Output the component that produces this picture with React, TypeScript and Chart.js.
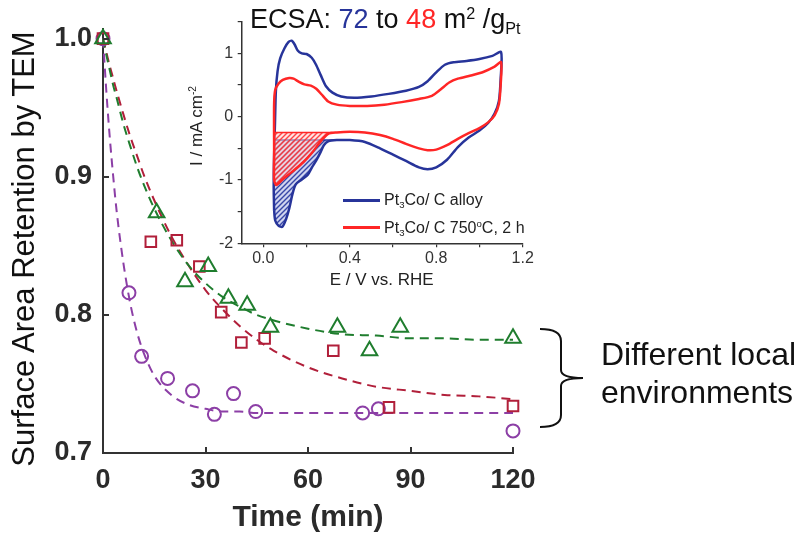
import React, { useEffect, useRef } from 'react';
import { Chart, registerables } from 'chart.js';
Chart.register(...registerables);

const FONT = '"Liberation Sans", Arial, Helvetica, sans-serif';

// ---- Main plot: surface area retention vs time ----
const xTicksMain = [0, 30, 60, 90, 120];
const yTicksMain = [0.7, 0.8, 0.9, 1.0];

const greenTime = [0, 15.7, 24, 30.8, 36.7, 42.2, 49, 68.6, 78, 87, 120];
const greenRet = [1.0, 0.874, 0.824, 0.835, 0.812, 0.807, 0.791, 0.791, 0.774, 0.791, 0.783];

const redTime = [0, 14, 21.6, 28.2, 34.6, 40.5, 47.3, 67.4, 83.7, 120];
const redRet = [1.0, 0.853, 0.854, 0.835, 0.802, 0.78, 0.783, 0.774, 0.733, 0.734];

const purpleTime = [0, 7.6, 11.3, 18.9, 26.2, 32.6, 38.2, 44.7, 76, 80.6, 120];
const purpleRet = [1.0, 0.816, 0.77, 0.754, 0.745, 0.728, 0.743, 0.73, 0.729, 0.732, 0.716];

const fitTime = [0, 1, 2, 3, 4, 6, 8, 10, 12, 15, 20, 25, 30, 35, 40, 45, 50, 60, 70, 80, 90, 100, 110, 120];
const greenFit = [1.0, 0.988, 0.977, 0.966, 0.957, 0.938, 0.922, 0.907, 0.894, 0.877, 0.854, 0.836, 0.823, 0.813, 0.806, 0.8, 0.796, 0.79, 0.786, 0.785, 0.783, 0.783, 0.782, 0.782];
const redFit = [1.0, 0.99, 0.98, 0.971, 0.962, 0.945, 0.929, 0.915, 0.901, 0.883, 0.857, 0.836, 0.818, 0.804, 0.792, 0.782, 0.774, 0.762, 0.754, 0.748, 0.745, 0.742, 0.741, 0.739];
const purpleFit = [1.0, 0.961, 0.928, 0.9, 0.875, 0.837, 0.808, 0.787, 0.772, 0.756, 0.742, 0.735, 0.732, 0.73, 0.73, 0.729, 0.729, 0.729, 0.729, 0.729, 0.729, 0.729, 0.729, 0.729];

// ---- Inset: cyclic voltammograms ----
const xTicksInset = [0, 0.2, 0.4, 0.6, 0.8, 1.0, 1.2];
const yTicksInset = [-2, -1.5, -1, -0.5, 0, 0.5, 1, 1.5];

const cvBlueE = [0.05, 0.048, 0.05, 0.054, 0.058, 0.066, 0.078, 0.098, 0.117, 0.131, 0.145, 0.16, 0.178, 0.2, 0.224, 0.244, 0.265, 0.29, 0.32, 0.36, 0.42, 0.5, 0.58, 0.66, 0.72, 0.76, 0.8, 0.84, 0.88, 0.94, 1.0, 1.06, 1.1, 1.098, 1.09, 1.07, 1.04, 1.0, 0.95, 0.9, 0.85, 0.8, 0.76, 0.72, 0.66, 0.6, 0.54, 0.47, 0.4, 0.34, 0.3, 0.28, 0.265, 0.245, 0.225, 0.205, 0.175, 0.15, 0.135, 0.12, 0.105, 0.088, 0.07, 0.055, 0.05];
const cvBlueI = [-1.48, -1.1, -0.6, -0.1, 0.4, 0.72, 0.92, 1.08, 1.18, 1.2, 1.14, 1.04, 1.0, 0.99, 0.93, 0.82, 0.66, 0.48, 0.38, 0.32, 0.3, 0.32, 0.36, 0.41, 0.47, 0.56, 0.7, 0.82, 0.86, 0.88, 0.91, 0.96, 1.02, 0.6, 0.25, 0.05, -0.1, -0.22, -0.33, -0.48, -0.68, -0.8, -0.83, -0.8, -0.7, -0.6, -0.5, -0.4, -0.37, -0.37, -0.39, -0.45, -0.56, -0.69, -0.8, -0.92, -1.0, -1.07, -1.22, -1.45, -1.62, -1.74, -1.72, -1.64, -1.48];

const cvRedE = [0.05, 0.05, 0.055, 0.07, 0.09, 0.12, 0.14, 0.165, 0.19, 0.22, 0.245, 0.27, 0.3, 0.34, 0.4, 0.48, 0.56, 0.64, 0.72, 0.78, 0.82, 0.86, 0.9, 0.96, 1.02, 1.07, 1.1, 1.098, 1.09, 1.07, 1.04, 1.0, 0.95, 0.9, 0.85, 0.8, 0.76, 0.72, 0.66, 0.6, 0.54, 0.47, 0.4, 0.34, 0.3, 0.27, 0.23, 0.185, 0.13, 0.09, 0.06, 0.05, 0.05];
const cvRedI = [-0.6, 0.2, 0.42, 0.52, 0.58, 0.61, 0.6, 0.55, 0.51, 0.49, 0.44, 0.35, 0.24, 0.19, 0.17, 0.17, 0.19, 0.23, 0.28, 0.33, 0.43, 0.54, 0.6, 0.65, 0.71, 0.79, 0.86, 0.5, 0.2, 0.02, -0.09, -0.18, -0.26, -0.35, -0.45, -0.52, -0.53, -0.5, -0.43, -0.35, -0.29, -0.25, -0.24, -0.25, -0.27, -0.37, -0.55, -0.72, -0.88, -0.99, -1.08, -1.0, -0.6];

const hatchBlueE = [0.05, 0.05, 0.055, 0.07, 0.088, 0.105, 0.12, 0.135, 0.15, 0.175, 0.205, 0.225, 0.245, 0.265, 0.28, 0.3, 0.33];
const hatchBlueI = [-0.37, -1.48, -1.64, -1.72, -1.74, -1.62, -1.45, -1.22, -1.07, -1.0, -0.92, -0.8, -0.69, -0.56, -0.45, -0.39, -0.37];
const hatchRedE = [0.05, 0.05, 0.06, 0.09, 0.13, 0.185, 0.23, 0.27, 0.3, 0.32];
const hatchRedI = [-0.25, -1.0, -1.08, -0.99, -0.88, -0.72, -0.55, -0.37, -0.27, -0.25];
const baseBlue = -0.37;
const baseRed = -0.25;

const GREEN = '#1f7d2e';
const RED = '#b11f3a';
const PURPLE = '#8c3fa6';
const NAVY = '#27349a';
const BRIGHT = '#ff2626';
const AXIS = '#333333';

const pts = (xs: number[], ys: number[]) => xs.map((x, i) => ({ x, y: ys[i] }));
const near = (v: number, step: number) => Math.abs(v / step - Math.round(v / step)) < 1e-6;

function hatch(line: string, bg: string) {
  const c = document.createElement('canvas');
  c.width = 5;
  c.height = 5;
  const g = c.getContext('2d')!;
  g.fillStyle = bg;
  g.fillRect(0, 0, 5, 5);
  g.strokeStyle = line;
  g.lineWidth = 1.4;
  g.beginPath();
  g.moveTo(0, 5); g.lineTo(5, 0);
  g.moveTo(-1, 1); g.lineTo(1, -1);
  g.moveTo(4, 6); g.lineTo(6, 4);
  g.stroke();
  return g.createPattern(c, 'repeat');
}

const mainDecor = {
  id: 'mainDecor',
  afterDraw(chart: any) {
    const { ctx, chartArea } = chart;
    const xs = chart.scales.x;
    const ys = chart.scales.y;
    ctx.save();
    ctx.strokeStyle = AXIS;
    ctx.lineWidth = 2;
    ctx.beginPath();
    [30, 60, 90, 120].forEach((v) => {
      const p = Math.round(xs.getPixelForValue(v));
      ctx.moveTo(p, chartArea.bottom);
      ctx.lineTo(p, chartArea.bottom - 6);
    });
    [0.8, 0.9, 1.0].forEach((v) => {
      const p = Math.round(ys.getPixelForValue(v));
      ctx.moveTo(chartArea.left, p);
      ctx.lineTo(chartArea.left + 6, p);
    });
    ctx.stroke();
    // curly brace
    ctx.strokeStyle = '#111';
    ctx.lineWidth = 2;
    ctx.beginPath();
    ctx.moveTo(540, 329);
    ctx.quadraticCurveTo(561, 329, 561, 341);
    ctx.lineTo(561, 370);
    ctx.quadraticCurveTo(561, 378, 583, 378);
    ctx.quadraticCurveTo(561, 378, 561, 386);
    ctx.lineTo(561, 415);
    ctx.quadraticCurveTo(561, 427, 540, 427);
    ctx.stroke();
    ctx.restore();
  },
};

export default function App() {
  const mainRef = useRef<HTMLCanvasElement>(null);
  const insetRef = useRef<HTMLCanvasElement>(null);

  useEffect(() => {
    const markerBase = { showLine: false, pointBorderWidth: 2, pointBackgroundColor: 'rgba(0,0,0,0)', backgroundColor: 'rgba(0,0,0,0)', clip: false as any };
    const fitBase = { showLine: true, borderWidth: 2, borderDash: [9, 6], pointRadius: 0, cubicInterpolationMode: 'monotone' as const, clip: false as any, backgroundColor: 'rgba(0,0,0,0)' };
    const main = new Chart(mainRef.current!, {
      type: 'scatter',
      data: {
        datasets: [
          { ...markerBase, label: 'Green', data: pts(greenTime, greenRet), pointStyle: 'triangle', pointRadius: 9, borderColor: GREEN, pointBorderColor: GREEN },
          { ...markerBase, label: 'Red', data: pts(redTime, redRet), pointStyle: 'rect', pointRadius: 7.5, borderColor: RED, pointBorderColor: RED },
          { ...markerBase, label: 'Purple', data: pts(purpleTime, purpleRet), pointStyle: 'circle', pointRadius: 6.5, borderColor: PURPLE, pointBorderColor: PURPLE },
          { ...fitBase, label: 'Green fit', data: pts(fitTime, greenFit), borderColor: GREEN },
          { ...fitBase, label: 'Red fit', data: pts(fitTime, redFit), borderColor: RED },
          { ...fitBase, label: 'Purple fit', data: pts(fitTime, purpleFit), borderColor: PURPLE },
        ] as any,
      },
      options: {
        animation: false,
        responsive: false,
        events: [],
        layout: { padding: { left: 0, top: 29, right: 294, bottom: 0 } },
        plugins: { legend: { display: false }, tooltip: { enabled: false } },
        scales: {
          x: {
            type: 'linear',
            min: 0,
            max: 120,
            afterBuildTicks: (s: any) => { s.ticks = xTicksMain.map((value) => ({ value })); },
            afterFit: (s: any) => { s.height = 87; },
            grid: { display: false, drawTicks: false },
            border: { display: true, color: AXIS, width: 2 },
            ticks: { font: { family: FONT, size: 27, weight: 'bold' }, color: '#2b2b2b', padding: 11, maxRotation: 0, autoSkip: false, callback: (v: any) => String(v) },
          },
          y: {
            type: 'linear',
            min: 0.7,
            max: 1.007,
            afterBuildTicks: (s: any) => { s.ticks = yTicksMain.map((value) => ({ value })); },
            afterFit: (s: any) => { s.width = 103; },
            grid: { display: false, drawTicks: false },
            border: { display: true, color: AXIS, width: 2 },
            ticks: { font: { family: FONT, size: 27, weight: 'bold' }, color: '#2b2b2b', padding: 11, autoSkip: false, callback: (v: any) => Number(v).toFixed(1) },
          },
        },
      } as any,
      plugins: [mainDecor],
    });

    const blueHatch = hatch('rgba(40,55,160,0.9)', 'rgba(205,210,238,0.95)');
    const redHatch = hatch('rgba(255,40,40,0.85)', 'rgba(255,205,205,0.55)');
    const loopBase = { showLine: true, pointRadius: 0, tension: 0.25, borderWidth: 2.5, backgroundColor: 'rgba(0,0,0,0)', fill: false };
    const inset = new Chart(insetRef.current!, {
      type: 'scatter',
      data: {
        datasets: [
          { ...loopBase, label: 'Pt3Co/C 750 °C, 2 h', data: pts(cvRedE, cvRedI), borderColor: BRIGHT },
          { showLine: true, pointRadius: 0, borderWidth: 1.5, borderColor: BRIGHT, label: 'red baseline', data: pts([0.05, 0.32], [baseRed, baseRed]) },
          { showLine: true, pointRadius: 0, tension: 0.25, borderWidth: 0, borderColor: 'rgba(0,0,0,0)', backgroundColor: redHatch, fill: { value: baseRed }, label: 'red hatch', data: pts(hatchRedE, hatchRedI) },
          { ...loopBase, label: 'Pt3Co/C alloy', data: pts(cvBlueE, cvBlueI), borderColor: NAVY },
          { showLine: true, pointRadius: 0, borderWidth: 1.5, borderColor: NAVY, label: 'blue baseline', data: pts([0.05, 0.34], [baseBlue, baseBlue]) },
          { showLine: true, pointRadius: 0, tension: 0.25, borderWidth: 0, borderColor: 'rgba(0,0,0,0)', backgroundColor: blueHatch, fill: { value: baseBlue }, label: 'blue hatch', data: pts(hatchBlueE, hatchBlueI) },
        ] as any,
      },
      options: {
        animation: false,
        responsive: false,
        events: [],
        layout: { padding: { left: 0, top: 21.7, right: 17.3, bottom: 0 } },
        plugins: { legend: { display: false }, tooltip: { enabled: false } },
        scales: {
          x: {
            type: 'linear',
            min: -0.1,
            max: 1.2,
            afterBuildTicks: (s: any) => { s.ticks = xTicksInset.map((value) => ({ value })); },
            afterFit: (s: any) => { s.height = 56.7; },
            grid: { display: true, drawOnChartArea: false, drawTicks: true, tickLength: 4, color: AXIS, lineWidth: 1.2 },
            border: { display: true, color: AXIS, width: 1.5 },
            ticks: { font: { family: FONT, size: 16 }, color: '#333', padding: 2, maxRotation: 0, autoSkip: false, callback: (v: any) => (near(Number(v), 0.4) ? Number(v).toFixed(1) : '') },
          },
          y: {
            type: 'linear',
            min: -2,
            max: 1.5,
            afterBuildTicks: (s: any) => { s.ticks = yTicksInset.map((value) => ({ value })); },
            afterFit: (s: any) => { s.width = 81.7; },
            grid: { display: true, drawOnChartArea: false, drawTicks: true, tickLength: 4, color: AXIS, lineWidth: 1.2 },
            border: { display: true, color: AXIS, width: 1.5 },
            ticks: { font: { family: FONT, size: 16 }, color: '#333', padding: 4.5, autoSkip: false, callback: (v: any) => (near(Number(v), 1) ? String(Math.round(Number(v))) : '') },
          },
        },
      } as any,
    });

    return () => {
      main.destroy();
      inset.destroy();
    };
  }, []);

  const abs: React.CSSProperties = { position: 'absolute', fontFamily: FONT, whiteSpace: 'nowrap', margin: 0 };
  const sup: React.CSSProperties = { fontSize: '0.6em', position: 'relative', top: '-0.55em' };
  const sub: React.CSSProperties = { fontSize: '0.6em', position: 'relative', top: '0.35em' };

  return (
    <div style={{ position: 'fixed', left: 0, top: 0, width: 807, height: 540, background: '#fff', overflow: 'hidden' }}>
      <canvas ref={mainRef} width={807} height={540} style={{ position: 'absolute', left: 0, top: 0, width: 807, height: 540 }} />
      <canvas ref={insetRef} width={380} height={300} style={{ position: 'absolute', left: 160, top: 0, width: 380, height: 300 }} />

      <div style={{ ...abs, left: 24 - 250, top: 249 - 18, width: 500, height: 36, lineHeight: '36px', fontSize: 31, textAlign: 'center', color: '#111', transform: 'rotate(-90deg)' }}>
        Surface Area Retention by TEM
      </div>
      <div style={{ ...abs, left: 158, top: 501, width: 300, height: 30, lineHeight: '30px', fontSize: 30, fontWeight: 'bold', textAlign: 'center', color: '#2b2b2b' }}>
        Time (min)
      </div>

      <div style={{ ...abs, left: 250, top: 4, height: 30, lineHeight: '30px', fontSize: 27, color: '#111' }}>
        ECSA: <span style={{ color: NAVY }}>72</span> to <span style={{ color: BRIGHT }}>48</span> m<span style={sup}>2</span> /g<span style={sub}>Pt</span>
      </div>

      <div style={{ ...abs, left: 197 - 80, top: 116, width: 160, height: 20, lineHeight: '20px', fontSize: 17, textAlign: 'center', color: '#222', transform: 'rotate(-90deg)' }}>
        I / mA cm<span style={sup}>-2</span>
      </div>
      <div style={{ ...abs, left: 281.7, top: 270, width: 200, height: 20, lineHeight: '20px', fontSize: 17, textAlign: 'center', color: '#222' }}>
        E / V vs. RHE
      </div>

      <div style={{ position: 'absolute', left: 343, top: 198.5, width: 37, height: 0, borderTop: `3px solid ${NAVY}` }} />
      <div style={{ ...abs, left: 384, top: 190, height: 20, lineHeight: '20px', fontSize: 16, color: '#222' }}>
        Pt<span style={sub}>3</span>Co/ C alloy
      </div>
      <div style={{ position: 'absolute', left: 343, top: 226, width: 37, height: 0, borderTop: `3px solid ${BRIGHT}` }} />
      <div style={{ ...abs, left: 384, top: 217.5, height: 20, lineHeight: '20px', fontSize: 16, color: '#222' }}>
        Pt<span style={sub}>3</span>Co/ C 750<span style={sup}>o</span>C, 2 h
      </div>

      <div style={{ ...abs, left: 601, top: 335.4, lineHeight: '38px', fontSize: 32, color: '#111' }}>
        Different local
        <br />
        environments
      </div>
    </div>
  );
}
